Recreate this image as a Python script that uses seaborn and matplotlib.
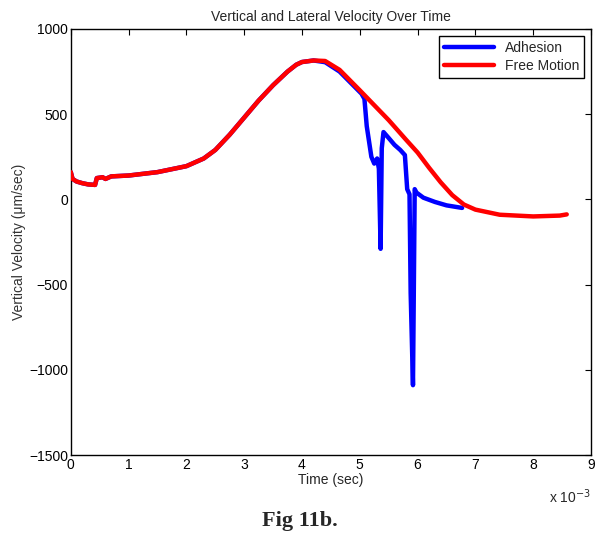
import matplotlib
matplotlib.use("Agg")
import matplotlib.pyplot as plt
import seaborn as sns
import pandas as pd
from matplotlib.ticker import FuncFormatter
from matplotlib.lines import Line2D

# Data (time in ms, velocity in um/sec)
free_t = [0, 0.03, 0.1, 0.2, 0.3, 0.42, 0.45, 0.55, 0.6, 0.7, 1.0, 1.5, 2.0, 2.3, 2.5,
          2.75, 3.0, 3.25, 3.5, 3.75, 3.9, 4.0, 4.2, 4.4, 4.65, 5.0, 5.5, 5.8, 6.0, 6.2,
          6.4, 6.6, 6.8, 7.0, 7.42, 8.0, 8.46, 8.58]
free_v = [160, 120, 105, 95, 88, 85, 125, 130, 120, 135, 140, 160, 195, 240, 290,
          380, 480, 580, 670, 750, 790, 806, 815, 812, 760, 640, 465, 350, 275, 185,
          100, 25, -30, -60, -90, -100, -95, -88]

adh_t = [0, 0.03, 0.1, 0.2, 0.3, 0.42, 0.45, 0.55, 0.6, 0.7, 1.0, 1.5, 2.0, 2.3, 2.5,
         2.75, 3.0, 3.25, 3.5, 3.75, 3.9, 4.0, 4.2, 4.4, 4.65, 5.03, 5.08, 5.12, 5.2,
         5.25, 5.3, 5.33, 5.36, 5.38, 5.41, 5.5, 5.6, 5.7, 5.78, 5.82, 5.86, 5.88,
         5.92, 5.95, 5.98, 6.1, 6.3, 6.5, 6.77]
adh_v = [160, 120, 105, 95, 88, 85, 125, 130, 120, 135, 140, 160, 195, 240, 290,
         380, 480, 580, 670, 750, 790, 806, 815, 805, 750, 620, 590, 430, 250,
         210, 240, 180, -290, 300, 395, 360, 320, 290, 260, 60, 30, -550,
         -1090, 60, 40, 10, -15, -35, -50]

series_names = ["Adhesion", "Free Motion"]
colors = {"Adhesion": "#0000ff", "Free Motion": "#ff0000"}

df = pd.concat([
    pd.DataFrame({"t": [x * 1e-3 for x in adh_t], "v": adh_v, "s": "Adhesion"}),
    pd.DataFrame({"t": [x * 1e-3 for x in free_t], "v": free_v, "s": "Free Motion"}),
], ignore_index=True)

sns.set_style("white")
plt.rcParams["font.family"] = ["Liberation Sans", "DejaVu Sans"]

fig = plt.figure(figsize=(6.0, 5.36), dpi=100)
ax = fig.add_axes([0.118, 0.151, 0.867, 0.795])

sns.lineplot(data=df, x="t", y="v", hue="s", hue_order=series_names, palette=colors,
             estimator=None, sort=False, units="s", lw=3.2, ax=ax, legend=False)
# red drawn on top of blue as in the reference
ax.lines[1].set_zorder(3)

ax.set_xlim(0, 9e-3)
ax.set_ylim(-1500, 1000)
ax.set_xticks([i * 1e-3 for i in range(10)])
ax.set_yticks([-1500, -1000, -500, 0, 500, 1000])
ax.xaxis.set_major_formatter(FuncFormatter(lambda x, p: f"{x*1e3:.0f}"))
ax.tick_params(direction="in", top=True, right=True, length=4, width=0.8,
               labelsize=10, colors="black", pad=2)
for sp in ax.spines.values():
    sp.set_color("black")
    sp.set_linewidth(1.0)

ax.set_xlabel("Time (sec)", fontsize=10, labelpad=1)
ax.set_ylabel("Vertical Velocity (\u03bcm/sec)", fontsize=10, labelpad=2, color="#333333")
ax.set_title("Vertical and Lateral Velocity Over Time", fontsize=10, pad=6)

fig.text(0.985, 0.073, "x 10$^{-3}$", ha="right", va="center", fontsize=10)

handles = [Line2D([], [], color=colors[n], lw=3.2) for n in series_names]
leg = ax.legend(handles, series_names, loc="upper right", fontsize=10, frameon=True,
                fancybox=False, edgecolor="black", framealpha=1, handlelength=3.6,
                borderaxespad=0.5, labelspacing=0.3, borderpad=0.35)
leg.get_frame().set_linewidth(1.0)

fig.text(0.5, 0.028, "Fig 11b.", ha="center", va="center", fontsize=16,
         fontweight="bold", family=["Liberation Serif", "DejaVu Serif"])

fig.savefig("out.png", dpi=100)
